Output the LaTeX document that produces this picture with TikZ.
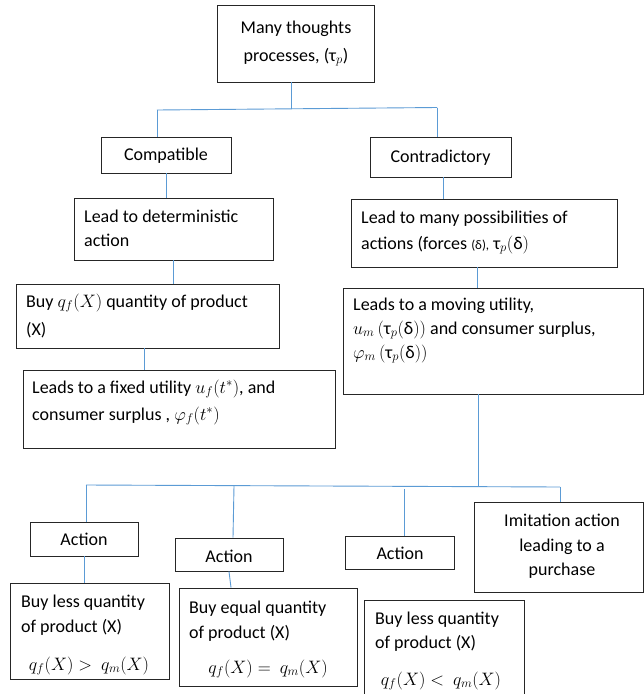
\documentclass[tikz,border=0pt]{standalone}
\usepackage{fix-cm}
\usepackage{fontspec}
\setmainfont{Carlito}
\definecolor{linkblue}{HTML}{5B9BD5}
\newcommand\tp{\mbox{τ}_p}
\newcommand\dl{\mbox{δ}}
\newcommand\tallstrut{\rule[-5pt]{0pt}{19pt}}
\tikzset{
  box/.style={draw=black!85, line width=0.8pt, inner sep=0pt},
  txt/.style={inner sep=0pt, anchor=base west, font=\fontsize{18}{22}\selectfont},
  ctxt/.style={inner sep=0pt, anchor=base, font=\fontsize{18}{22}\selectfont},
  link/.style={draw=linkblue, line width=0.9pt}
}
\begin{document}
\begin{tikzpicture}[x=1pt,y=-1pt]
\useasboundingbox[fill=white] (0,0) rectangle (644,694);
% boxes
\node[box, minimum width=157pt, minimum height=77pt] (top) at (295.5,43.5) {};
\node[box, minimum width=130pt, minimum height=36pt] (comp) at (166,155) {};
\node[box, minimum width=141pt, minimum height=40pt] (contra) at (440.5,157) {};
\node[box, minimum width=199pt, minimum height=62pt] (det) at (173.5,229) {};
\node[box, minimum width=266pt, minimum height=68pt] (many) at (484,233) {};
\node[box, minimum width=263pt, minimum height=64pt] (buy) at (147.5,316) {};
\node[box, minimum width=312pt, minimum height=78pt] (fixed) at (179,409) {};
\node[box, minimum width=300pt, minimum height=106pt] (moving) at (493,341) {};
\node[box, minimum width=108pt, minimum height=34pt] (act1) at (84,539) {};
\node[box, minimum width=108pt, minimum height=33pt] (act2) at (229,554.5) {};
\node[box, minimum width=109pt, minimum height=33pt] (act3) at (399.5,552.5) {};
\node[box, minimum width=169pt, minimum height=90pt] (imit) at (558.5,547) {};
\node[box, minimum width=159pt, minimum height=96pt] (buy1) at (89.5,631) {};
\node[box, minimum width=178pt, minimum height=98pt] (buy2) at (268,637) {};
\node[box, minimum width=160pt, minimum height=100pt] (buy3) at (444,650) {};
% texts
\node[ctxt] (t1) at (296,33) {Many thoughts};
\node[ctxt] (t2) at (296,61) {processes, (τ$_p$)};
\node[ctxt] (t3) at (166,160) {Compatible};
\node[ctxt] (t4) at (440.5,162) {Contradictory};
\node[txt] (t5) at (84,222) {Lead to deterministic};
\node[txt] (t6) at (84,246) {action};
\node[txt] (t7) at (361,223) {Lead to many possibilities of};
\node[txt] (t8) at (361,249) {actions (forces {\fontsize{13}{13}\selectfont(δ),} $\tp(\dl)$};
\node[txt] (t9) at (26,307) {Buy $q_f(X)$ quantity of product};
\node[txt] (t10) at (26,335) {(X)};
\node[txt] (t11) at (32,393) {Leads to a fixed utility $u_f(t^*)$, and};
\node[txt] (t12) at (32,420) {consumer surplus , $\varphi_f(t^*)$};
\node[txt] (t13) at (353,310) {Leads to a moving utility,};
\node[txt] (t14) at (353,334) {$u_m\left(\tallstrut\tp(\dl)\right)$ and consumer surplus,};
\node[txt] (t15) at (353,358) {$\varphi_m\left(\tallstrut\tp(\dl)\right)$};
\node[ctxt] (t16) at (84,545) {Action};
\node[ctxt] (t17) at (229,562) {Action};
\node[ctxt] (t18) at (400,559) {Action};
\node[ctxt] (t19) at (562,526) {Imitation action};
\node[ctxt] (t20) at (562,551) {leading to a};
\node[ctxt] (t21) at (562,575) {purchase};
\node[txt] (t22) at (21,607) {Buy less quantity};
\node[txt] (t23) at (21,632) {of product (X)};
\node[ctxt] (t24) at (89,670) {$q_f(X) >\ q_m(X)$};
\node[txt] (t25) at (189,613) {Buy equal quantity};
\node[txt] (t26) at (189,638) {of product (X)};
\node[ctxt] (t27) at (268,673) {$q_f(X) =\ q_m(X)$};
\node[txt] (t28) at (375,624) {Buy less quantity};
\node[txt] (t29) at (375,648) {of product (X)};
\node[ctxt] (t30) at (441,685) {$q_f(X) <\ q_m(X)$};
% connector coordinates
\coordinate (hT) at (291,108.5);
\coordinate (hL) at (157,110);
\coordinate (hR) at (437,107.5);
\coordinate (x1) at (166,0);
\coordinate (x2) at (443,0);
\coordinate (x3) at (173,0);
\coordinate (x4) at (477,0);
\coordinate (x5) at (144,0);
\coordinate (bT) at (478.5,487);
\coordinate (bL) at (86,485);
\coordinate (bR) at (560,487);
\coordinate (b2) at (234,486);
\coordinate (x6) at (233,0);
\coordinate (b3) at (404,489);
\coordinate (x7) at (84,0);
\coordinate (x8) at (229,0);
\coordinate (x9) at (231,0);
% connectors
\draw[link] (top.south -| hT) -- (hT);
\draw[link] (hL) -- (hR);
\draw[link] (hL) -- (hL |- comp.north);
\draw[link] (hR) -- (hR |- contra.north);
\draw[link] (comp.south -| x1) -- (det.north -| x1);
\draw[link] (contra.south -| x2) -- (many.north -| x2);
\draw[link] (det.south -| x3) -- (buy.north -| x3);
\draw[link] (many.south -| x4) -- (moving.north -| x4);
\draw[link] (buy.south -| x5) -- (fixed.north -| x5);
\draw[link] (moving.south -| bT) -- (bT);
\draw[link] (bL) -- (bR);
\draw[link] (bL) -- (bL |- act1.north);
\draw[link] (b2) -- (act2.north -| x6);
\draw[link] (b3) -- (b3 |- act3.north);
\draw[link] (bR) -- (bR |- imit.north);
\draw[link] (act1.south -| x7) -- (buy1.north -| x7);
\draw[link] (act2.south -| x8) -- (buy2.north -| x9);
\end{tikzpicture}
\end{document}
